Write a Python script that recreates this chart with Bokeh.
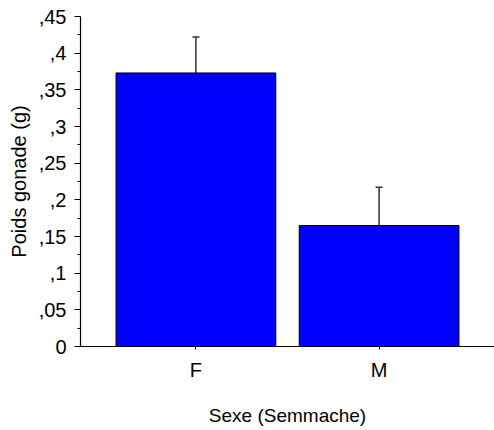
from bokeh.plotting import figure
from bokeh.models import (ColumnDataSource, FactorRange, Range1d, FixedTicker,
                          CustomJSTickFormatter, Whisker, TeeHead)
from bokeh.embed import file_html
from bokeh.resources import INLINE

categories = ["F", "M"]
means = [0.373, 0.165]
errors = [0.049, 0.052]
y_ticks = [0, 0.05, 0.1, 0.15, 0.2, 0.25, 0.3, 0.35, 0.4, 0.45]
y_tick_labels = ["0", ",05", ",1", ",15", ",2", ",25", ",3", ",35", ",4", ",45"]
x_title = "Sexe (Semmache)"
y_title = "Poids gonade (g)"

FONT = "Liberation Sans"

src = ColumnDataSource(dict(
    x=categories,
    top=means,
    upper=[m + e for m, e in zip(means, errors)],
))

p = figure(
    width=494, height=430,
    x_range=FactorRange(factors=categories, range_padding=0.13,
                        range_padding_units="absolute"),
    y_range=Range1d(0, 0.45),
    output_backend="svg", toolbar_location=None,
    min_border_left=80, min_border_right=0, min_border_top=16, min_border_bottom=84,
)

p.vbar(x="x", top="top", bottom=0, width=0.872, source=src,
       fill_color="#0000FF", line_color="#000000", line_width=1)

w = Whisker(base="x", lower="top", upper="upper", source=src, dimension="height",
            line_color="#333333", line_width=1.5, lower_head=None,
            upper_head=TeeHead(size=7, line_color="#333333", line_width=1.5))
p.add_layout(w)

p.xgrid.visible = False
p.ygrid.visible = False
p.outline_line_color = None
p.background_fill_color = "white"
p.border_fill_color = "white"

minor = [(a + b) / 2 for a, b in zip(y_ticks[:-1], y_ticks[1:])]
p.yaxis.ticker = FixedTicker(ticks=y_ticks, minor_ticks=minor)
p.yaxis.formatter = CustomJSTickFormatter(
    args=dict(tvals=y_ticks, tlabels=y_tick_labels),
    code="const i = tvals.findIndex(t => Math.abs(t - tick) < 1e-9); return i >= 0 ? tlabels[i] : '';")

for ax in (p.xaxis[0], p.yaxis[0]):
    ax.axis_line_color = "#000000"
    ax.axis_line_width = 1.2
    ax.major_tick_line_color = "#000000"
    ax.minor_tick_line_color = "#000000"
    ax.major_tick_in = 0
    ax.minor_tick_in = 0
    ax.major_label_text_font = FONT
    ax.major_label_text_font_size = "20px"
    ax.major_label_text_color = "#000000"
    ax.axis_label_text_font = FONT
    ax.axis_label_text_font_size = "20px"
    ax.axis_label_text_font_style = "normal"
    ax.axis_label_text_color = "#000000"

p.xaxis.axis_label_text_font_size = "19px"

p.yaxis.major_tick_out = 6
p.yaxis.minor_tick_out = 3
p.yaxis.major_label_standoff = 8
p.yaxis.axis_label = y_title
p.yaxis.axis_label_standoff = 6

p.xaxis.major_tick_out = 3
p.xaxis.major_label_standoff = 9
p.xaxis.axis_label = x_title
p.xaxis.axis_label_standoff = 21

open("out.html", "w").write(file_html(p, INLINE))
